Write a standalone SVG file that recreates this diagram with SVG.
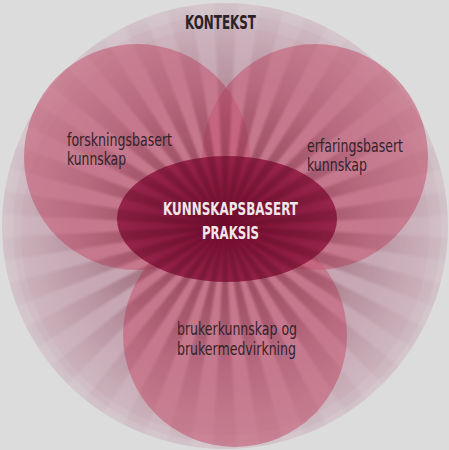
<svg xmlns="http://www.w3.org/2000/svg" width="449" height="450" viewBox="0 0 449 450">
  <style>
    .ctx { fill: #b88a9b; fill-opacity: 0.09; }
    .petal { fill: #c45a74; fill-opacity: 0.6; }
    .lbl { font-family: "DejaVu Sans Condensed", "DejaVu Sans", sans-serif; font-size: 17px; fill: #33222a; }
    .head { font-family: "DejaVu Sans Condensed", "DejaVu Sans", sans-serif; font-weight: bold; }
  </style>
  <defs>
    <radialGradient id="ctxGrad" gradientUnits="userSpaceOnUse" cx="225" cy="226" r="223">
      <stop offset="0" stop-color="#c4a0ae"/>
      <stop offset="0.7" stop-color="#cbb1bb"/>
      <stop offset="1" stop-color="#d5c7cd"/>
    </radialGradient>
    <radialGradient id="rayFade" gradientUnits="userSpaceOnUse" cx="225" cy="226" r="226">
      <stop offset="0" stop-color="#fff" stop-opacity="0.42"/>
      <stop offset="0.3" stop-color="#fff" stop-opacity="0.36"/>
      <stop offset="0.5" stop-color="#fff" stop-opacity="0.24"/>
      <stop offset="0.66" stop-color="#fff" stop-opacity="0.12"/>
      <stop offset="0.85" stop-color="#fff" stop-opacity="0.05"/>
      <stop offset="1" stop-color="#fff" stop-opacity="0.02"/>
    </radialGradient>
    <mask id="rayMask" maskUnits="userSpaceOnUse" x="0" y="0" width="449" height="450">
      <rect x="0" y="0" width="449" height="450" fill="url(#rayFade)"/>
    </mask>
    <clipPath id="ctxClip">
      <circle cx="225" cy="226" r="223"/>
    </clipPath>
    <filter id="soft" filterUnits="userSpaceOnUse" x="-50" y="-50" width="549" height="550">
      <feGaussianBlur stdDeviation="0.9"/>
    </filter>
    <radialGradient id="coreGrad" gradientUnits="userSpaceOnUse" cx="226" cy="222" r="110" gradientTransform="translate(226 222) scale(1 0.6) translate(-226 -222)">
      <stop offset="0" stop-color="#6e0629"/>
      <stop offset="1" stop-color="#921d45"/>
    </radialGradient>
  </defs>

  <rect id="background" x="0" y="0" width="449" height="450" fill="#dcdcdc"/>

  <g id="kontekst">
    <circle cx="225" cy="226" r="223" fill="url(#ctxGrad)"/>
    <circle class="ctx" cx="227" cy="229" r="214"/>
    <circle class="ctx" cx="225" cy="231" r="204"/>
  </g>

  <g id="forskningsbasert-kunnskap">
    <circle class="petal" cx="137" cy="157" r="113"/>
  </g>
  <g id="erfaringsbasert-kunnskap">
    <circle class="petal" cx="315" cy="157" r="113"/>
  </g>
  <g id="brukerkunnskap">
    <circle class="petal" cx="235" cy="335" r="112"/>
  </g>

  <g id="kunnskapsbasert-praksis">
    <ellipse cx="227" cy="219" rx="110" ry="63" fill="url(#coreGrad)" fill-opacity="0.92"/>
  </g>

  <g id="rays" clip-path="url(#ctxClip)" mask="url(#rayMask)">
    <circle cx="225" cy="226" r="130" fill="none" stroke="#5a0724" stroke-width="260" stroke-dasharray="13.614 13.614" transform="rotate(3 225 226)" filter="url(#soft)"/>
  </g>

  <g id="labels">
    <text class="head" x="185" y="29" font-size="19" fill="#2b2326" textLength="71" lengthAdjust="spacingAndGlyphs">KONTEKST</text>
    <text class="lbl" x="67" y="146" textLength="105" lengthAdjust="spacingAndGlyphs">forskningsbasert</text>
    <text class="lbl" x="67" y="165" textLength="59" lengthAdjust="spacingAndGlyphs">kunnskap</text>
    <text class="lbl" x="307" y="152" textLength="96" lengthAdjust="spacingAndGlyphs">erfaringsbasert</text>
    <text class="lbl" x="307" y="171" textLength="60" lengthAdjust="spacingAndGlyphs">kunnskap</text>
    <text class="head" x="163" y="215" font-size="18" fill="#f1e6ea" textLength="135" lengthAdjust="spacingAndGlyphs">KUNNSKAPSBASERT</text>
    <text class="head" x="202" y="239" font-size="18" fill="#f1e6ea" textLength="57" lengthAdjust="spacingAndGlyphs">PRAKSIS</text>
    <text class="lbl" x="177" y="335" textLength="120" lengthAdjust="spacingAndGlyphs">brukerkunnskap og</text>
    <text class="lbl" x="177" y="355" textLength="119" lengthAdjust="spacingAndGlyphs">brukermedvirkning</text>
  </g>
</svg>
